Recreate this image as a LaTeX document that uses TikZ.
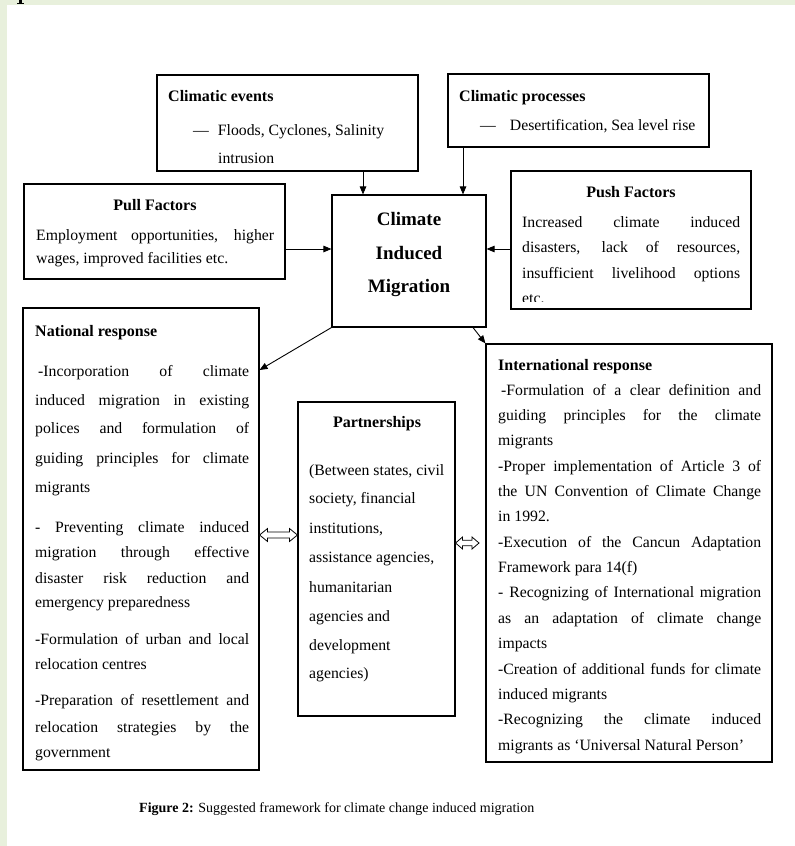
\documentclass[tikz,border=0pt]{standalone}
\usepackage{fontspec}
\setmainfont{Liberation Serif}
\usetikzlibrary{arrows.meta,calc}
\definecolor{bggreen}{RGB}{232,240,220}
\newcommand\bodyf{\fontsize{15.75}{18}\selectfont}
\newcommand\headf{\fontsize{16}{19}\selectfont\bfseries}
\newcommand\bigf{\fontsize{19}{22}\selectfont\bfseries}
\newcommand\jline[5]{\node[txt] (#1) at (#2,#3) {\makebox[#4pt][s]{#5}};}
\newcommand\nline[4]{\node[txt] (#1) at (#2,#3) {#4};}
\newcommand\boxnode[5]{\node[box, minimum width=#4pt-#2pt, minimum height=#5pt-#3pt] (#1) at ({(#2+#4)/2},{(#3+#5)/2}) {};}
% hollow double arrow between two points: #1 start, #2 end, #3 head length, #4 half head height, #5 half shaft height
\newcommand\hollowdbl[5]{\draw[dblarr] let \p1=#1, \p2=#2 in
  (\x1,\y1) -- (\x1+#3,\y1+#4) -- (\x1+#3,\y1+#5) -- (\x2-#3,\y1+#5) -- (\x2-#3,\y1+#4) -- (\x2,\y1)
  -- (\x2-#3,\y1-#4) -- (\x2-#3,\y1-#5) -- (\x1+#3,\y1-#5) -- (\x1+#3,\y1-#4) -- cycle;}
\begin{document}
\begin{tikzpicture}[x=1pt,y=-1pt,
  box/.style={draw, line width=1.1pt, inner sep=0pt},
  txt/.style={anchor=base west, inner sep=0pt, font=\bodyf},
  hd/.style={inner sep=0pt, font=\headf},
  big/.style={anchor=base, inner sep=0pt, font=\bigf},
  arr/.style={line width=0.9pt, -{Triangle[length=8pt,width=6.5pt]}},
  dblarr/.style={line width=0.8pt, line join=miter, fill=white}]
\useasboundingbox (0,0) rectangle (795,846);
\fill[bggreen] (0,0) rectangle (795,846);
\fill[white] (7,5) rectangle (795,846);
\fill[black] (19.3,0) rectangle (21.6,4);
\fill[black] (17,3) rectangle (23.5,4.3);

% boxes
\boxnode{ev}{157}{75}{418}{171}
\boxnode{pr}{448}{74}{709}{147}
\boxnode{pull}{24}{184}{285}{279}
\boxnode{push}{511}{171}{751}{309}
\boxnode{cim}{332}{195}{486}{327}
\boxnode{nat}{23}{308}{259}{770}
\boxnode{part}{298}{402}{455}{716}
\boxnode{intl}{486}{344}{772}{762}

% climatic events
\node[hd, anchor=base west] (evt) at (168,101.5) {Climatic events};
\nline{ev1}{193}{135}{—\hspace{9pt}Floods, Cyclones, Salinity}
\nline{ev2}{218}{163}{intrusion}

% climatic processes
\node[hd, anchor=base west] (prt) at (459,101) {Climatic processes};
\nline{pr1}{480}{130}{—\hspace{14pt}Desertification, Sea level rise}

% pull
\node[hd, anchor=base] (pullt) at (155,210) {Pull Factors};
\jline{pl1}{36}{240}{238}{Employment opportunities, higher}
\nline{pl2}{36}{263}{wages, improved facilities etc.}

% push
\node[hd, anchor=base] (pusht) at (631,197) {Push Factors};
\jline{ps1}{522}{227}{218}{Increased climate induced}
\jline{ps2}{522}{252}{218}{disasters, lack of resources,}
\jline{ps3}{522}{278}{218}{insufficient livelihood options}
\begin{scope}
\clip (511,171) rectangle (751,301.5);
\nline{ps4}{522}{303}{etc.}
\end{scope}

% central
\node[big] (cim1) at (409,225) {Climate};
\node[big] (cim2) at (409,259) {Induced};
\node[big] (cim3) at (409,292) {Migration};

% national
\node[hd, anchor=base west] (natt) at (35,336) {National response};
\jline{n1}{38}{376}{211}{-Incorporation of climate}
\jline{n2}{35}{405}{214}{induced migration in existing}
\jline{n3}{35}{433}{214}{polices and formulation of}
\jline{n4}{35}{463}{214}{guiding principles for climate}
\nline{n5}{35}{492}{migrants}
\jline{n6}{35}{532}{214}{- Preventing climate induced}
\jline{n7}{35}{557}{214}{migration through effective}
\jline{n8}{35}{583}{214}{disaster risk reduction and}
\nline{n9}{35}{607}{emergency preparedness}
\jline{n10}{35}{644}{214}{-Formulation of urban and local}
\nline{n11}{35}{669}{relocation centres}
\jline{n12}{35}{705}{214}{-Preparation of resettlement and}
\jline{n13}{35}{732}{214}{relocation strategies by the}
\nline{n14}{35}{757}{government}

% partnerships
\node[hd, anchor=base] (partt) at (377,427) {Partnerships};
\nline{p1}{309}{475}{(Between states, civil}
\nline{p2}{309}{503}{society, financial}
\nline{p3}{309}{533}{institutions,}
\nline{p4}{309}{562}{assistance agencies,}
\nline{p5}{309}{592}{humanitarian}
\nline{p6}{309}{621}{agencies and}
\nline{p7}{309}{650}{development}
\nline{p8}{309}{678}{agencies)}

% international
\node[hd, anchor=base west] (intt) at (498,370) {International response};
\jline{i1}{501}{395}{260}{-Formulation of a clear definition and}
\jline{i2}{498}{420.4}{263}{guiding principles for the climate}
\nline{i3}{498}{445.7}{migrants}
\jline{i4}{498}{471.1}{263}{-Proper implementation of Article 3 of}
\jline{i5}{498}{496.4}{263}{the UN Convention of Climate Change}
\nline{i6}{498}{521.8}{in 1992.}
\jline{i7}{498}{547.2}{263}{-Execution of the Cancun Adaptation}
\nline{i8}{498}{572.5}{Framework para 14(f)}
\jline{i9}{498}{597.9}{263}{- Recognizing of International migration}
\jline{i10}{498}{623.2}{263}{as an adaptation of climate change}
\nline{i11}{498}{648.6}{impacts}
\jline{i12}{498}{674}{263}{-Creation of additional funds for climate}
\nline{i13}{498}{699.3}{induced migrants}
\jline{i14}{498}{724.7}{263}{-Recognizing the climate induced}
\nline{i15}{498}{750}{migrants as ‘Universal Natural Person’}

% caption
\node[anchor=base west, inner sep=0pt, font=\fontsize{14}{16}\selectfont] (cap) at (139,812) {\textbf{Figure 2:} Suggested framework for climate change induced migration};

% connectors
\coordinate (xa) at (363,0);
\coordinate (xb) at (463,0);
\coordinate (yc) at (0,249);
\coordinate (yn) at (0,370);
\coordinate (xi) at (473,0);
\coordinate (yd1) at (0,535);
\coordinate (yd2) at (0,543);
\coordinate (dend) at (479,543);
\draw[arr] (ev.south -| xa) -- (cim.north -| xa);
\draw[arr] (pr.south -| xb) -- (cim.north -| xb);
\draw[arr] (pull.east |- yc) -- (cim.west |- yc);
\draw[arr] (push.west |- yc) -- (cim.east |- yc);
\draw[arr] (cim.south west) -- (nat.east |- yn);
\draw[arr] (cim.south -| xi) -- (intl.north west);
\hollowdbl{(nat.east |- yd1)}{(part.west |- yd1)}{8pt}{6.5pt}{3pt}
\hollowdbl{(part.east |- yd2)}{(dend)}{7pt}{6pt}{2.8pt}
\end{tikzpicture}
\end{document}
